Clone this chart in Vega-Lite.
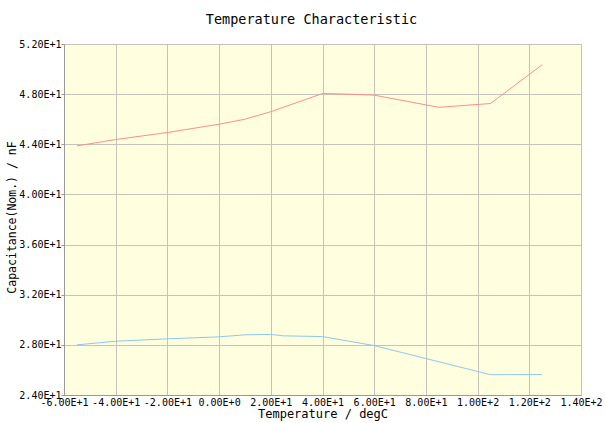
{
  "$schema": "https://vega.github.io/schema/vega-lite/v6.json",
  "autosize": "none",
  "width": 517,
  "height": 351,
  "padding": {"left": 64, "top": 44, "right": 24, "bottom": 28},
  "background": "white",
  "title": {"text": "Temperature Characteristic", "font": "DejaVu Sans Mono", "fontSize": 13.5, "fontWeight": "normal", "color": "black", "offset": 13, "dx": -11},
  "config": {
    "view": {"fill": "#ffffe0", "stroke": "#c0c0c0"},
    "axis": {"labelFont": "DejaVu Sans Mono", "labelFontSize": 10, "labelColor": "black", "titleFont": "DejaVu Sans Mono", "titleFontSize": 12, "titleFontWeight": "normal", "titleColor": "black", "gridColor": "#c4c4b8", "gridOpacity": 1, "domainColor": "#999999", "tickColor": "#999999"}
  },
  "data": {"values": [
    {"t": -55, "c": 43.87, "s": "upper"},
    {"t": -40, "c": 44.38, "s": "upper"},
    {"t": -20, "c": 44.94, "s": "upper"},
    {"t": 0, "c": 45.6, "s": "upper"},
    {"t": 10, "c": 46.0, "s": "upper"},
    {"t": 20, "c": 46.6, "s": "upper"},
    {"t": 40, "c": 48.05, "s": "upper"},
    {"t": 50, "c": 48.0, "s": "upper"},
    {"t": 60, "c": 47.92, "s": "upper"},
    {"t": 85, "c": 46.95, "s": "upper"},
    {"t": 105, "c": 47.25, "s": "upper"},
    {"t": 125, "c": 50.35, "s": "upper"},
    {"t": -55, "c": 28.0, "s": "lower"},
    {"t": -40, "c": 28.29, "s": "lower"},
    {"t": -20, "c": 28.48, "s": "lower"},
    {"t": 0, "c": 28.64, "s": "lower"},
    {"t": 10, "c": 28.8, "s": "lower"},
    {"t": 20, "c": 28.83, "s": "lower"},
    {"t": 25, "c": 28.72, "s": "lower"},
    {"t": 40, "c": 28.66, "s": "lower"},
    {"t": 60, "c": 27.94, "s": "lower"},
    {"t": 105, "c": 25.62, "s": "lower"},
    {"t": 125, "c": 25.63, "s": "lower"}
  ]},
  "mark": {"type": "line", "strokeWidth": 1},
  "encoding": {
    "x": {"field": "t", "type": "quantitative",
      "scale": {"domain": [-60, 140], "nice": false, "zero": false},
      "axis": {"values": [-60, -40, -20, 0, 20, 40, 60, 80, 100, 120, 140], "title": "Temperature / degC", "ticks": false, "labelPadding": 2, "titlePadding": 1, "labelOverlap": false, "labelFlush": false, "labelBound": false,
        "labelExpr": "datum.value == 0 ? '0.00E+0' : (datum.value < 0 ? '-' : '') + format(abs(datum.value) / pow(10, floor(log(abs(datum.value)) / LN10 + 1e-9)), '.2f') + 'E+' + floor(log(abs(datum.value)) / LN10 + 1e-9)"}},
    "y": {"field": "c", "type": "quantitative",
      "scale": {"domain": [24, 52], "nice": false, "zero": false},
      "axis": {"values": [24, 28, 32, 36, 40, 44, 48, 52], "title": "Capacitance(Nom.) / nF", "titleFontSize": 11.5, "tickSize": 3, "labelPadding": 0, "labelOverlap": false, "labelFlush": false, "labelBound": false,
        "titleX": -52, "titleY": 173, "titleAngle": -90, "titleAlign": "center", "titleBaseline": "middle",
        "labelExpr": "datum.value == 0 ? '0.00E+0' : (datum.value < 0 ? '-' : '') + format(abs(datum.value) / pow(10, floor(log(abs(datum.value)) / LN10 + 1e-9)), '.2f') + 'E+' + floor(log(abs(datum.value)) / LN10 + 1e-9)"}},
    "color": {"field": "s", "type": "nominal", "scale": {"domain": ["upper", "lower"], "range": ["#ff8c8c", "#8cc8ec"]}, "legend": null}
  }
}
